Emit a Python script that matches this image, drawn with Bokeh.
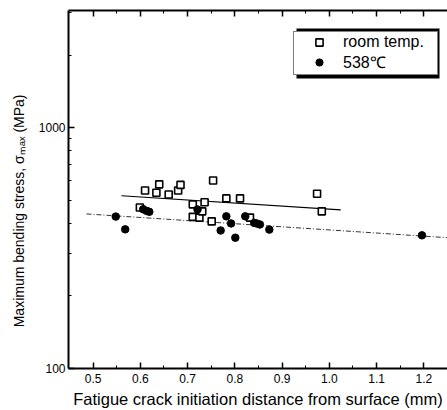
from bokeh.plotting import figure
from bokeh.models import (Range1d, LinearAxis, FixedTicker, Legend, LegendItem,
                          BoxAnnotation)
from bokeh.embed import file_html
from bokeh.resources import INLINE

# room temperature data (open squares)
rt_x = [0.61, 0.640, 0.634, 0.660, 0.680, 0.685, 0.599, 0.754, 0.711, 0.736,
        0.711, 0.725, 0.731, 0.782, 0.811, 0.751, 0.832, 0.974, 0.984]
rt_y = [548, 581, 536, 527, 548, 578, 466, 603, 480, 490,
        426, 423, 449, 508, 508, 408, 423, 531, 449]

# 538 C data (filled circles)
ht_x = [0.548, 0.568, 0.606, 0.613, 0.619, 0.721, 0.782, 0.792, 0.770, 0.801,
        0.822, 0.841, 0.846, 0.853, 0.873, 1.196]
ht_y = [427, 378, 458, 451, 447, 457, 428, 400, 374, 349,
        428, 402, 400, 396, 377, 357]

# fitted lines (end points)
rt_fit_x = [0.560, 1.024]
rt_fit_y = [521, 455]
ht_fit_x = [0.486, 1.25]
ht_fit_y = [438, 349]

x_ticks = [0.5, 0.6, 0.7, 0.8, 0.9, 1.0, 1.1, 1.2]
x_minor = [0.55, 0.65, 0.75, 0.85, 0.95, 1.05, 1.15]
y_ticks = [100, 1000]
y_minor = [200, 300, 400, 500, 600, 700, 800, 900, 2000, 3000]

FONT = "Liberation Sans"

p = figure(width=447, height=410, output_backend="svg", toolbar_location=None,
           y_axis_type="log", x_range=Range1d(0.448, 1.25), y_range=Range1d(100, 3060),
           min_border_left=68, min_border_right=0, min_border_top=10, min_border_bottom=42)
p.xgrid.visible = False
p.ygrid.visible = False
p.outline_line_color = None
p.background_fill_color = "white"


def style_axis(ax):
    ax.axis_line_width = 2
    ax.axis_line_color = "black"
    ax.major_tick_line_color = "black"
    ax.minor_tick_line_color = "black"
    ax.major_tick_in = 6
    ax.major_tick_out = 0
    ax.minor_tick_in = 3
    ax.minor_tick_out = 0
    ax.major_tick_line_width = 1.5
    ax.minor_tick_line_width = 1
    ax.major_label_text_color = "black"
    ax.major_label_text_font = FONT
    ax.major_label_text_font_size = "12px"
    ax.axis_label_text_color = "black"
    ax.axis_label_text_font = FONT
    ax.axis_label_text_font_style = "normal"


# x axis
xa = p.xaxis[0]
xa.ticker = FixedTicker(ticks=x_ticks, minor_ticks=x_minor)
style_axis(xa)
xa.major_label_overrides = {t: f"{t:.1f}" for t in x_ticks}
xa.major_label_standoff = 5
xa.axis_label = "Fatigue crack initiation distance from surface (mm)"
xa.axis_label_text_font_size = "16.5px"
xa.axis_label_standoff = 4

# y axis
ya = p.yaxis[0]
ya.ticker = FixedTicker(ticks=y_ticks, minor_ticks=y_minor)
style_axis(ya)
ya.major_label_overrides = {t: str(t) for t in y_ticks}
ya.major_label_standoff = 3
ya.axis_label = "Maximum bending stress, σₘₐₓ (MPa)" + "\u00a0" * 11
ya.axis_label_text_font_size = "14px"
ya.axis_label_standoff = 9

# top axis with inward ticks
ta = LinearAxis(ticker=FixedTicker(ticks=x_ticks, minor_ticks=x_minor))
style_axis(ta)
ta.major_label_overrides = {t: "" for t in x_ticks}
ta.major_label_standoff = 0
p.add_layout(ta, "above")

# fit lines
p.line(rt_fit_x, rt_fit_y, line_color="black", line_width=1.2)
p.line(ht_fit_x, ht_fit_y, line_color="#333333", line_width=1, line_dash="5 2 1 2")

# data
r_rt = p.scatter(rt_x, rt_y, marker="square", size=7, fill_color="white",
                 line_color="black", line_width=1.6)
r_ht = p.scatter(ht_x, ht_y, marker="circle", size=7.5, fill_color="black",
                 line_color="black")

# legend shadow (screen units: x from frame left, y from frame bottom)
shadow = BoxAnnotation(left=228, right=371, top=340, bottom=290,
                       left_units="screen", right_units="screen",
                       top_units="screen", bottom_units="screen",
                       fill_color="black", fill_alpha=1.0, line_color=None)
p.add_layout(shadow)

legend = Legend(items=[LegendItem(label="room temp.", renderers=[r_rt]),
                       LegendItem(label="538℃", renderers=[r_ht])],
                location=(225, 293), padding=1, margin=0, spacing=0,
                glyph_width=48, glyph_height=18, label_height=18, label_width=93,
                label_standoff=0, label_text_font=FONT, label_text_font_size="16px",
                label_text_color="black",
                border_line_color="black", border_line_width=1.5,
                background_fill_color="white", background_fill_alpha=1.0)
p.add_layout(legend, "center")

open("out.html", "w").write(file_html(p, INLINE))
